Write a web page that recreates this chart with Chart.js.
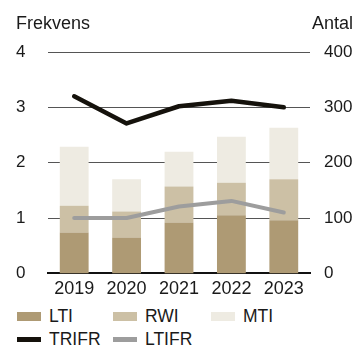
<!DOCTYPE html>
<html>
<head>
<meta charset="utf-8">
<script src="https://cdn.jsdelivr.net/npm/chart.js@4"></script>
<style>
  html, body { margin: 0; padding: 0; background: #fff; }
  body { width: 358px; height: 345px; position: relative; overflow: hidden; font-family: 'Liberation Sans', Arial, sans-serif; color: #1a1a1a; }
  #wrap { position: absolute; left: 0; top: 0; width: 358px; height: 305px; }
  .legend-item { position: absolute; display: flex; align-items: center; font-size: 17.5px; line-height: 18px; }
  .legend-item .swatch { width: 24px; margin-right: 8px; }
</style>
</head>
<body>
<div id="wrap"><canvas id="chartSkador"></canvas></div>
<div id="legend"></div>
<script>
// Skador per år (antal) och frekvenser
const years = ['2019', '2020', '2021', '2022', '2023'];
const lti = [74, 65, 92, 105, 96];
const rwi = [48, 47, 65, 59, 74];
const mti = [107, 58, 63, 83, 93];
const trifr = [3.2, 2.71, 3.02, 3.12, 3.0];
const ltifr = [1.0, 1.0, 1.21, 1.31, 1.1];
const frekvensTicks = [0, 1, 2, 3, 4];
const antalTicks = [0, 100, 200, 300, 400];

const textColor = '#1a1a1a';
const fontFamily = "'Liberation Sans', Arial, sans-serif";
const tickFont = { family: fontFamily, size: 17 };

// Axeltitlar ovanför respektive axel
const axelTitlar = {
  id: 'axelTitlar',
  afterDraw(chart) {
    const ctx = chart.ctx;
    ctx.save();
    ctx.fillStyle = textColor;
    ctx.font = '18px ' + fontFamily;
    ctx.textBaseline = 'alphabetic';
    ctx.textAlign = 'left';
    ctx.fillText('Frekvens', 16, 29);
    ctx.textAlign = 'right';
    ctx.fillText('Antal', 353, 29);
    ctx.restore();
  }
};

const ctxSkador = document.getElementById('chartSkador').getContext('2d');
const chartSkador = new Chart(ctxSkador, {
  data: {
    labels: years,
    datasets: [
      { type: 'line', label: 'TRIFR', data: trifr, yAxisID: 'frekvens', borderColor: '#15120c', backgroundColor: '#15120c', borderWidth: 4.5, pointRadius: 0, borderCapStyle: 'round', borderJoinStyle: 'round', order: 0, legendH: 5 },
      { type: 'line', label: 'LTIFR', data: ltifr, yAxisID: 'frekvens', borderColor: '#9d9d9d', backgroundColor: '#9d9d9d', borderWidth: 4, pointRadius: 0, borderCapStyle: 'round', borderJoinStyle: 'round', order: 1, legendH: 5 },
      { type: 'bar', label: 'LTI', data: lti, yAxisID: 'antal', backgroundColor: '#ae9a74', stack: 'skador', order: 2, legendH: 9 },
      { type: 'bar', label: 'RWI', data: rwi, yAxisID: 'antal', backgroundColor: '#ccc0a5', stack: 'skador', order: 3, legendH: 9 },
      { type: 'bar', label: 'MTI', data: mti, yAxisID: 'antal', backgroundColor: '#eeebe2', stack: 'skador', order: 4, legendH: 9 }
    ]
  },
  options: {
    responsive: true,
    maintainAspectRatio: false,
    animation: false,
    layout: { padding: { left: 16, right: 0, top: 52, bottom: 0 } },
    datasets: { bar: { barPercentage: 0.55, categoryPercentage: 1 } },
    plugins: {
      legend: { display: false },
      tooltip: { enabled: false }
    },
    scales: {
      x: {
        stacked: true,
        grid: { display: false, drawTicks: false },
        border: { display: true, color: '#111', width: 2 },
        ticks: { color: textColor, font: { family: fontFamily, size: 18 }, padding: 5, maxRotation: 0 }
      },
      frekvens: {
        position: 'left',
        min: 0, max: 4,
        afterFit(scale) { scale.width = 32; },
        afterBuildTicks(scale) { scale.ticks = frekvensTicks.map(v => ({ value: v })); },
        grid: { color: '#555', lineWidth: 1, drawTicks: false },
        border: { display: false },
        ticks: { color: textColor, font: tickFont, padding: 0, crossAlign: 'far' }
      },
      antal: {
        position: 'right',
        stacked: true,
        min: 0, max: 400,
        afterFit(scale) { scale.width = 48; },
        afterBuildTicks(scale) { scale.ticks = antalTicks.map(v => ({ value: v })); },
        grid: { display: false, drawTicks: false },
        border: { display: false },
        ticks: { color: textColor, font: tickFont, padding: 14, crossAlign: 'near' }
      }
    }
  },
  plugins: [axelTitlar]
});

// Förklaring i rutnät: staplar på första raden, linjer på andra
const legendPos = {
  LTI: [17, 316], RWI: [113, 316], MTI: [211, 316],
  TRIFR: [17, 339], LTIFR: [113, 339]
};
const legend = document.getElementById('legend');
chartSkador.data.datasets.forEach(ds => {
  const [x, y] = legendPos[ds.label];
  const item = document.createElement('div');
  item.className = 'legend-item';
  item.style.left = x + 'px';
  item.style.top = (y - 9) + 'px';
  const sw = document.createElement('span');
  sw.className = 'swatch';
  sw.style.height = ds.legendH + 'px';
  sw.style.background = ds.type === 'line' ? ds.borderColor : ds.backgroundColor;
  item.appendChild(sw);
  item.appendChild(document.createTextNode(ds.label));
  legend.appendChild(item);
});
</script>
</body>
</html>
